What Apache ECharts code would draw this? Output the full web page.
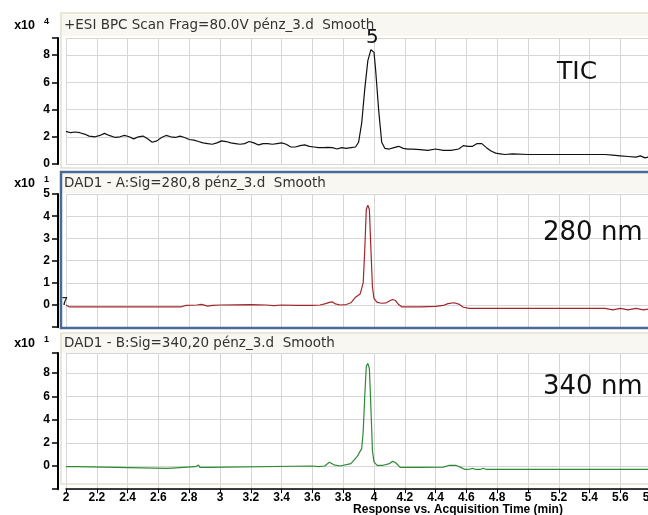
<!DOCTYPE html>
<html>
<head>
<meta charset="utf-8">
<script src="https://cdn.jsdelivr.net/npm/echarts@6/dist/echarts.min.js"></script>
<style>
  html, body { margin: 0; padding: 0; background: #fff; }
  #chart { width: 648px; height: 515px; }
</style>
</head>
<body>
<div id="chart"></div>
<script>
// panel headers and trace labels
const panelTitles = [
  '+ESI BPC Scan Frag=80.0V pénz_3.d  Smooth',
  'DAD1 - A:Sig=280,8 pénz_3.d  Smooth',
  'DAD1 - B:Sig=340,20 pénz_3.d  Smooth'
];
const panelExponents = ['4', '1', '1'];
const traceLabels = ['TIC', '280 nm', '340 nm'];
const xTitle = 'Response vs. Acquisition Time (min)';
const peakLabel = '5';

// y tick labels per panel
const yTicksTic = [0, 2, 4, 6, 8];
const yTicks280 = [0, 1, 2, 3, 4, 5];
const yTicks340 = [0, 2, 4, 6, 8];

// TIC (x10^4)
const ticTime = [2.00, 2.03, 2.06, 2.09, 2.12, 2.15, 2.19, 2.22, 2.25, 2.28, 2.32, 2.35, 2.38, 2.41, 2.44, 2.47,
  2.50, 2.53, 2.56, 2.59, 2.62, 2.65, 2.68, 2.71, 2.74, 2.77, 2.80, 2.83, 2.86, 2.89, 2.92, 2.95, 2.98,
  3.01, 3.04, 3.07, 3.10, 3.13, 3.16, 3.19, 3.22, 3.25, 3.28, 3.31, 3.34, 3.37, 3.40, 3.43, 3.46, 3.49,
  3.52, 3.55, 3.58, 3.61, 3.64, 3.67, 3.70, 3.73, 3.76, 3.79, 3.82, 3.85, 3.88, 3.90, 3.92, 3.94, 3.96,
  3.98, 3.99, 4.00, 4.01, 4.03, 4.05, 4.07, 4.10, 4.13, 4.16, 4.19, 4.22, 4.25, 4.30, 4.35, 4.40, 4.45,
  4.50, 4.55, 4.58, 4.61, 4.64, 4.67, 4.70, 4.73, 4.76, 4.79, 4.82, 4.85, 4.90, 5.00, 5.10, 5.20, 5.30,
  5.40, 5.50, 5.55, 5.60, 5.65, 5.70, 5.73, 5.76, 5.78];
const ticValue = [2.4, 2.3, 2.35, 2.3, 2.2, 2.05, 2.0, 2.1, 2.25, 2.1, 1.95, 2.0, 2.1, 2.0, 1.85, 2.0,
  2.05, 1.85, 1.6, 1.7, 1.95, 2.1, 2.0, 1.95, 2.05, 1.95, 1.8, 1.75, 1.65, 1.55, 1.5, 1.45, 1.55,
  1.7, 1.65, 1.55, 1.5, 1.45, 1.5, 1.65, 1.55, 1.4, 1.5, 1.5, 1.45, 1.5, 1.55, 1.45, 1.25, 1.25,
  1.35, 1.4, 1.3, 1.25, 1.2, 1.2, 1.22, 1.2, 1.1, 1.2, 1.15, 1.2, 1.25, 1.6, 3.0, 5.5, 7.6,
  8.4, 8.45, 8.2, 7.0, 4.0, 1.6, 1.15, 1.1, 1.2, 1.3, 1.15, 1.1, 1.1, 1.05, 1.0, 1.1, 1.0,
  1.0, 1.1, 1.35, 1.3, 1.3, 1.5, 1.5, 1.2, 0.95, 0.8, 0.75, 0.7, 0.75, 0.7, 0.7, 0.7, 0.7,
  0.7, 0.7, 0.65, 0.6, 0.55, 0.5, 0.6, 0.45, 0.5];

// DAD 280 nm (x10^1)
const uv280Time = [2.00, 2.02, 2.50, 2.75, 2.78, 2.85, 2.88, 2.92, 2.95, 3.00, 3.20, 3.30, 3.35, 3.40, 3.50,
  3.60, 3.65, 3.68, 3.71, 3.73, 3.75, 3.78, 3.82, 3.85, 3.88, 3.91, 3.93, 3.94, 3.95, 3.96, 3.97, 3.98,
  3.99, 4.00, 4.02, 4.05, 4.08, 4.10, 4.12, 4.14, 4.16, 4.18, 4.30, 4.40, 4.45, 4.48, 4.52, 4.55, 4.58,
  4.62, 4.80, 5.00, 5.50, 5.55, 5.60, 5.65, 5.70, 5.75, 5.78];
const uv280Value = [0.0, -0.08, -0.08, -0.08, -0.02, 0.0, 0.03, -0.05, -0.02, 0.0, 0.02, 0.0, -0.03, 0.0, -0.02,
  -0.02, 0.0, 0.05, 0.12, 0.14, 0.05, 0.0, 0.02, 0.1, 0.35, 0.5, 1.0, 2.5, 4.3, 4.5, 4.3, 2.5,
  0.8, 0.3, 0.12, 0.08, 0.1, 0.18, 0.25, 0.2, 0.02, -0.08, -0.08, -0.06, -0.02, 0.06, 0.1, 0.04, -0.1,
  -0.15, -0.15, -0.15, -0.15, -0.22, -0.15, -0.22, -0.15, -0.22, -0.18];

// DAD 340 nm (x10^1)
const uv340Time = [2.00, 2.07, 2.08, 2.66, 2.67, 2.84, 2.86, 2.87, 2.93, 2.94, 3.60, 3.61, 3.64, 3.68, 3.71,
  3.74, 3.78, 3.85, 3.89, 3.92, 3.93, 3.94, 3.95, 3.96, 3.97, 3.98, 3.99, 4.00, 4.02, 4.06, 4.10, 4.12,
  4.14, 4.17, 4.30, 4.45, 4.49, 4.53, 4.56, 4.59, 4.62, 4.64, 4.66, 4.69, 4.71, 4.73, 4.74, 4.76, 5.78];
const uv340Value = [-0.06, -0.06, -0.2, -0.2, -0.06, -0.06, 0.08, -0.12, -0.12, 0.0, 0.0, -0.12, -0.05, 0.0, 0.32,
  0.1, 0.0, 0.2, 0.8, 1.5, 3.0, 6.0, 8.6, 8.85, 8.4, 5.0, 1.3, 0.35, 0.06, 0.06, 0.2, 0.4,
  0.3, -0.12, -0.12, -0.1, 0.06, 0.06, -0.1, -0.3, -0.28, -0.2, -0.3, -0.3, -0.2, -0.3, -0.2, -0.3, -0.3];

const pairs = (ts, vs) => ts.map((t, i) => [t, vs[i]]);

const chart = echarts.init(document.getElementById('chart'));

const gridLeft = 66;
const gridWidth = 3.8 * 154;
const gridColor = '#d6d6d6';
const labelFont = { fontFamily: 'Liberation Sans', fontWeight: 'bold', fontSize: 12, color: '#000' };

function yAxisFor(gridIndex, min, max, ticks) {
  return {
    type: 'value',
    gridIndex,
    min,
    max,
    interval: ticks[1] - ticks[0],
    offset: 8,
    axisLine: { show: true, lineStyle: { color: '#000', width: 2 } },
    axisTick: { show: true, length: 6, lineStyle: { color: '#000', width: 1.5 } },
    axisLabel: {
      ...labelFont,
      margin: 8,
      formatter: (v) => (ticks.indexOf(Math.round(v * 1000) / 1000) >= 0 ? String(v) : '')
    },
    splitLine: { show: true, lineStyle: { color: gridColor, width: 1 } }
  };
}

function xAxisFor(gridIndex, showAxis) {
  return {
    type: 'value',
    gridIndex,
    min: 2,
    max: 5.8,
    interval: 0.2,
    axisLine: { show: showAxis, onZero: false, lineStyle: { color: '#000', width: 1.5 } },
    axisTick: { show: true, length: showAxis ? 4 : 0, lineStyle: { color: showAxis ? '#000' : 'rgba(0,0,0,0)' } },
    axisLabel: { show: true, ...labelFont, color: showAxis ? '#000' : 'rgba(0,0,0,0)', margin: 3 },
    splitLine: { show: true, lineStyle: { color: gridColor, width: 1 } }
  };
}

// panel frames and headers
const frames = [
  { y: 13, h: 155, head: 22, stroke: '#e4e0d0', lw: 1.5 },
  { y: 172, h: 156, head: 20, stroke: '#4a6b98', lw: 2.5 },
  { y: 333, h: 151, head: 19, stroke: '#e4e0d0', lw: 1.5 }
];
const headerCenters = [25, 183, 343];
const graphics = [];
frames.forEach((f, i) => {
  graphics.push({
    type: 'rect', z: -5,
    shape: { x: 60, y: f.y + 1, width: 592, height: f.head },
    style: { fill: '#f8f7f1', stroke: null }
  });
  graphics.push({
    type: 'rect', z: 5,
    shape: { x: 61, y: f.y, width: 592, height: f.h },
    style: { fill: 'none', stroke: f.stroke, lineWidth: f.lw }
  });
  graphics.push({
    type: 'text', z: 6,
    style: {
      text: panelTitles[i], x: 64, y: headerCenters[i],
      font: '13.5px "DejaVu Sans"', fill: '#333',
      textAlign: 'left', textVerticalAlign: 'middle', align: 'left', verticalAlign: 'middle'
    }
  });
  graphics.push({
    type: 'text', z: 6,
    style: {
      text: 'x10', x: 35, y: headerCenters[i] + 1,
      font: 'bold 12.5px "Liberation Sans"', fill: '#000',
      textAlign: 'right', textVerticalAlign: 'middle', align: 'right', verticalAlign: 'middle'
    }
  });
  graphics.push({
    type: 'text', z: 6,
    style: {
      text: panelExponents[i], x: 44, y: headerCenters[i] - 3,
      font: 'bold 9px "Liberation Sans"', fill: '#000',
      textAlign: 'left', textVerticalAlign: 'middle', align: 'left', verticalAlign: 'middle'
    }
  });
});

const traceLabelPos = [[557, 72, '25px'], [543, 233, '26px'], [543, 387, '26px']];
traceLabelPos.forEach((p, i) => {
  graphics.push({
    type: 'text', z: 6,
    style: {
      text: traceLabels[i], x: p[0], y: p[1],
      font: p[2] + ' "DejaVu Sans"', fill: '#111',
      textAlign: 'left', textVerticalAlign: 'middle', align: 'left', verticalAlign: 'middle'
    }
  });
});

graphics.push({
  type: 'text', z: 6,
  style: {
    text: '7', x: 62, y: 302,
    font: 'bold 10px "Liberation Sans"', fill: '#222',
    textAlign: 'left', textVerticalAlign: 'middle', align: 'left', verticalAlign: 'middle'
  }
});
graphics.push({
  type: 'text', z: 6,
  style: {
    text: xTitle, x: 458, y: 510,
    font: 'bold 12px "Liberation Sans"', fill: '#000',
    textAlign: 'center', textVerticalAlign: 'middle', align: 'center', verticalAlign: 'middle'
  }
});

const gridBase = { left: gridLeft, width: gridWidth, outerBoundsMode: 'none', containLabel: false };

const option = {
  animation: false,
  backgroundColor: '#fff',
  graphic: graphics,
  grid: [
    { ...gridBase, top: 38, height: 126 },
    { ...gridBase, top: 194, height: 6 * 22.2 },
    { ...gridBase, top: 353, height: 11.74 * 11.6 }
  ],
  xAxis: [xAxisFor(0, false), xAxisFor(1, false), xAxisFor(2, true)],
  yAxis: [
    yAxisFor(0, 0, 9.26, yTicksTic),
    yAxisFor(1, -1, 5, yTicks280),
    yAxisFor(2, -2, 9.74, yTicks340)
  ],
  series: [
    {
      name: 'TIC', type: 'line', xAxisIndex: 0, yAxisIndex: 0,
      data: pairs(ticTime, ticValue), showSymbol: false, z: 3,
      lineStyle: { color: '#111', width: 1.2 },
      markPoint: {
        symbol: 'circle', symbolSize: 0,
        label: { show: true, position: 'top', distance: 1, formatter: peakLabel,
          fontFamily: 'DejaVu Sans', fontSize: 20, color: '#111' },
        data: [{ coord: [3.99, 8.45] }]
      }
    },
    {
      name: '280 nm', type: 'line', xAxisIndex: 1, yAxisIndex: 1,
      data: pairs(uv280Time, uv280Value), showSymbol: false, z: 3,
      lineStyle: { color: '#a3262b', width: 1.2 }
    },
    {
      name: '340 nm', type: 'line', xAxisIndex: 2, yAxisIndex: 2,
      data: pairs(uv340Time, uv340Value), showSymbol: false, z: 3,
      lineStyle: { color: '#2f8a35', width: 1.2 }
    }
  ]
};

chart.setOption(option);
</script>
</body>
</html>
